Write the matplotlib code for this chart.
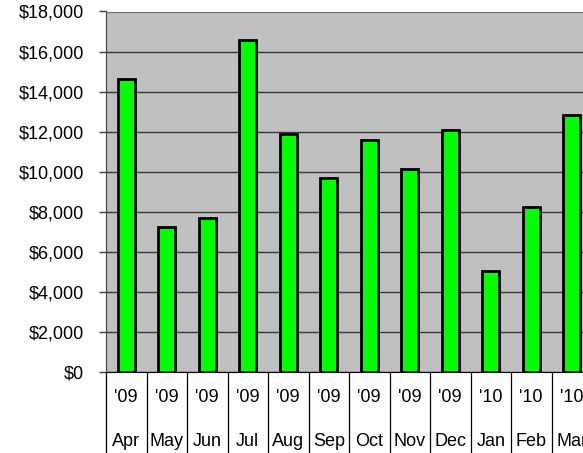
import matplotlib.pyplot as plt
from matplotlib.ticker import FuncFormatter, MultipleLocator
import matplotlib.transforms as mtransforms

# --- data ---
months = ['Apr', 'May', 'Jun', 'Jul', 'Aug', 'Sep', 'Oct', 'Nov', 'Dec', 'Jan', 'Feb', 'Mar']
years = ["'09", "'09", "'09", "'09", "'09", "'09", "'09", "'09", "'09", "'10", "'10", "'10"]
values = [14620, 7240, 7670, 16570, 11870, 9690, 11570, 10120, 12090, 5060, 8220, 12840]

plt.rcParams['font.family'] = ['Liberation Sans', 'DejaVu Sans']

W, H = 583, 453
fig = plt.figure(figsize=(W / 100, H / 100), dpi=100)

# plot area runs past the right edge of the image, as in the reference
left, bottom, top = 106, 81, 441.5
ax = fig.add_axes([left / W, bottom / H, 486 / W, (top - bottom) / H])
ax.set_facecolor('#c0c0c0')

x = range(len(months))
ax.bar(x, values, width=0.42, color='#00ff00', edgecolor='black', linewidth=2.0, zorder=3)

ax.set_xlim(-0.5, len(months) - 0.5)
ax.set_ylim(0, 18000)
ax.yaxis.set_major_locator(MultipleLocator(2000))
ax.yaxis.set_major_formatter(FuncFormatter(lambda v, p: f'${v:,.0f}'))
ax.grid(axis='y', color='#383838', linewidth=1.0, zorder=1)
ax.tick_params(axis='y', length=5, width=1, labelsize=13, pad=11, color='#404040')
ax.tick_params(axis='x', length=0, labelbottom=False)

ax.spines['right'].set_visible(False)
ax.spines['top'].set_color('#707070')
ax.spines['left'].set_color('#404040')
ax.spines['bottom'].set_color('black')

# two-level category labels below the axis
trans = mtransforms.blended_transform_factory(ax.transData, ax.transAxes)
h_ax = top - bottom
for i in range(len(months) + 1):
    ax.plot([i - 0.5, i - 0.5], [0, -bottom / h_ax], transform=trans,
            color='black', linewidth=0.9, clip_on=False)
for i, (yr, mo) in enumerate(zip(years, months)):
    ax.text(i, -26 / h_ax, yr, transform=trans, ha='center', va='center', fontsize=13)
    ax.text(i, -69 / h_ax, mo, transform=trans, ha='center', va='center', fontsize=13)

fig.savefig('out.png', dpi=100)
